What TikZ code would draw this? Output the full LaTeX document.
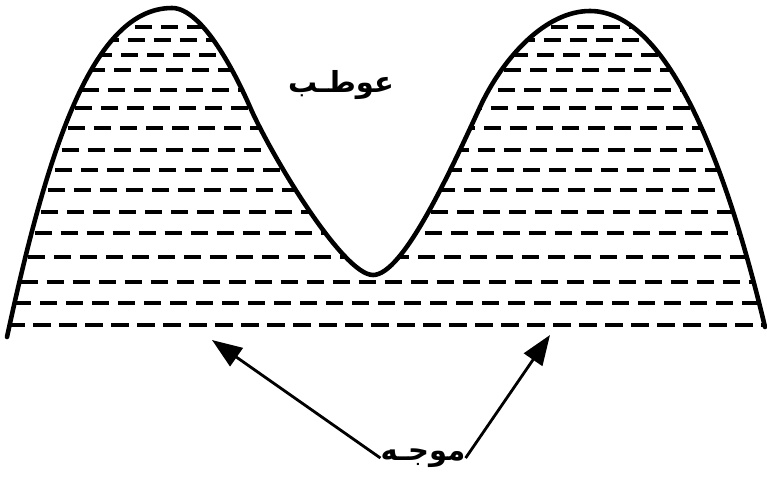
\documentclass[tikz,border=0pt]{standalone}
\usepackage{fontspec}
\usepackage{tikz}
\usetikzlibrary{arrows.meta}
\newfontfamily\arabicfont[Script=Arabic]{DejaVu Sans}
\TeXXeTstate=1
% contorno de las dos crestas
\newcommand\contornoOla{(0.14,2.86) .. controls (0.94,6.56) and (1.84,9.44) .. (3.44,9.44)
  .. controls (4.06,9.44) and (4.74,8.06) .. (5.00,7.46)
  .. controls (5.42,6.50) and (6.86,4.10) .. (7.46,4.10)
  .. controls (8.06,4.10) and (9.00,6.16) .. (9.60,7.46)
  .. controls (10.05,8.43) and (10.90,9.38) .. (11.80,9.38)
  .. controls (13.40,9.38) and (14.56,6.16) .. (15.30,3.06)}

\begin{document}
\begin{tikzpicture}[
  >={Triangle[length=6mm, width=4.4mm]},
  arr/.style={->, line width=1.6pt},
  contorno/.style={line width=2.6pt, line join=round, line cap=round},
  rayas/.style={line width=2pt, dash pattern=on 0.34cm off 0.18cm},
  etiqueta/.style={font=\arabicfont\bfseries\fontsize{16.5}{20}\selectfont, inner sep=0pt}
]
  \useasboundingbox (0,0) rectangle (15.34,9.6);

  % --- Rayas de agua (recortadas al contorno) ---
  \begin{scope}
    \clip \contornoOla -- (15.30,2.9) -- (0.14,2.8) -- cycle;
    \foreach \y [count=\i] in {3.10, 3.54, 3.96, 4.46, 4.94, 5.36, 5.80, 6.20, 6.60, 7.04,
                               7.44, 7.80, 8.20, 8.50, 8.80, 9.06} {
      \pgfmathsetmacro\fase{mod(\i*37,50)/100}
      \draw[rayas, dash phase=\fase cm] (0,\y) -- (15.34,\y);
    }
  \end{scope}

  % --- Contorno de la ola ---
  \draw[contorno] \contornoOla;

  % --- Etiquetas ---
  \node[etiqueta] (textoArriba) at (6.82,7.90) {\beginR عوطـب\endR};
  \node[etiqueta] (textoOla) at (8.46,0.44) {\beginR موجـه\endR};

  % --- Flechas ---
  \coordinate (puntaIzq) at (4.24,2.80);
  \coordinate (puntaDer) at (11.00,2.90);
  \draw[arr] (textoOla.west) -- (puntaIzq);
  \draw[arr] (textoOla.east) -- (puntaDer);
\end{tikzpicture}
\end{document}
